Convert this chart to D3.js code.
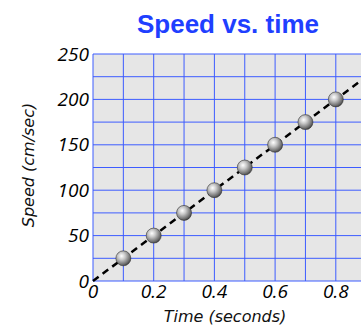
<!DOCTYPE html>
<html>
<head>
<meta charset="utf-8">
<script src="https://cdn.jsdelivr.net/npm/d3@7"></script>
<style>
  html, body { margin: 0; padding: 0; background: #fff; overflow: hidden; }
  svg { display: block; }
  .tick-label { font-family: "Open Sans", sans-serif; font-style: italic; font-weight: 400; font-size: 19px; fill: #000; }
  .axis-title { font-family: "DejaVu Sans", sans-serif; font-style: italic; font-size: 16px; fill: #111; }
</style>
</head>
<body>
<svg id="chart" width="361" height="326"></svg>
<script>
// Measured times (s) and speeds (cm/s)
const times = [0.1, 0.2, 0.3, 0.4, 0.5, 0.6, 0.7, 0.8];
const speeds = [25, 50, 75, 100, 125, 150, 175, 200];
// Axis labels
const xTickLabels = [0, 0.2, 0.4, 0.6, 0.8];
const yTickLabels = [0, 50, 100, 150, 200, 250];
// Grid spacing
const xGrid = [0, 0.1, 0.2, 0.3, 0.4, 0.5, 0.6, 0.7, 0.8, 0.9];
const yGrid = [0, 25, 50, 75, 100, 125, 150, 175, 200, 225, 250];
// Best-fit line through the origin
const fitLine = [[0, 0], [0.9, 225]];

const svg = d3.select("#chart");
const plotLeft = 93, plotTop = 54, plotBottom = 281;

const x = d3.scaleLinear().domain([0, 0.9]).range([plotLeft, plotLeft + 9 * 30.35]);
const y = d3.scaleLinear().domain([0, 250]).range([plotBottom, plotTop]);

// Gradient for the sphere markers
const defs = svg.append("defs");
const grad = defs.append("radialGradient").attr("id", "ball")
  .attr("cx", "0.38").attr("cy", "0.35").attr("r", "0.7");
grad.append("stop").attr("offset", "0%").attr("stop-color", "#ffffff");
grad.append("stop").attr("offset", "35%").attr("stop-color", "#c8c8c8");
grad.append("stop").attr("offset", "80%").attr("stop-color", "#6e6e6e");
grad.append("stop").attr("offset", "100%").attr("stop-color", "#3a3a3a");

// Plot background
svg.append("rect")
  .attr("x", plotLeft).attr("y", plotTop)
  .attr("width", x(0.9) - plotLeft).attr("height", plotBottom - plotTop)
  .attr("fill", "#e6e6e6");

// Grid lines
svg.append("g").selectAll("line").data(xGrid).join("line")
  .attr("x1", d => x(d)).attr("x2", d => x(d))
  .attr("y1", plotTop).attr("y2", plotBottom)
  .attr("stroke", "#3d5cff").attr("stroke-width", 1);
svg.append("g").selectAll("line").data(yGrid).join("line")
  .attr("x1", plotLeft).attr("x2", x(0.9))
  .attr("y1", d => y(d)).attr("y2", d => y(d))
  .attr("stroke", "#3d5cff").attr("stroke-width", 1);

// Dashed fit line
svg.append("path")
  .datum(fitLine)
  .attr("d", d3.line().x(d => x(d[0])).y(d => y(d[1])))
  .attr("fill", "none").attr("stroke", "#000")
  .attr("stroke-width", 2.5).attr("stroke-dasharray", "7,5");

// Data points
svg.append("g").selectAll("circle").data(times).join("circle")
  .attr("cx", d => x(d)).attr("cy", (d, i) => y(speeds[i]))
  .attr("r", 7.5)
  .attr("fill", "url(#ball)")
  .attr("stroke", "#333").attr("stroke-width", 0.6);

// Tick labels
svg.append("g").selectAll("text").data(xTickLabels).join("text")
  .attr("class", "tick-label")
  .attr("x", d => x(d)).attr("y", 298)
  .attr("text-anchor", "middle")
  .text(d => d === 0 ? "0" : d3.format(".1f")(d));
svg.append("g").selectAll("text").data(yTickLabels).join("text")
  .attr("class", "tick-label")
  .attr("x", 89).attr("y", d => y(d))
  .attr("dy", "0.35em")
  .attr("text-anchor", "end")
  .text(d => d);

// Title and axis titles
svg.append("text")
  .attr("x", 228).attr("y", 33)
  .attr("text-anchor", "middle")
  .attr("font-family", "Liberation Sans, Arial, sans-serif")
  .attr("font-weight", "bold").attr("font-size", 26)
  .attr("fill", "#1f3fff")
  .text("Speed vs. time");
svg.append("text")
  .attr("class", "axis-title")
  .attr("x", 225).attr("y", 322)
  .attr("text-anchor", "middle")
  .text("Time (seconds)");
svg.append("text")
  .attr("class", "axis-title")
  .attr("transform", "translate(34,165) rotate(-90)")
  .attr("text-anchor", "middle")
  .text("Speed (cm/sec)");
</script>
</body>
</html>
